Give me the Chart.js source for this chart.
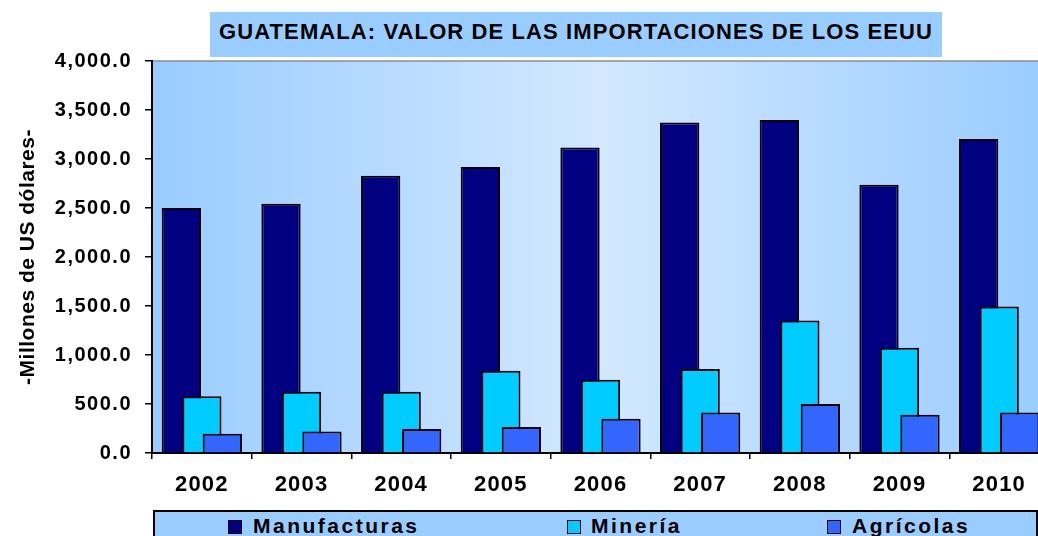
<!DOCTYPE html>
<html><head><meta charset="utf-8">
<script src="https://cdn.jsdelivr.net/npm/chart.js@4.4.1/dist/chart.umd.min.js"></script>
<style>
html,body{margin:0;padding:0;overflow:hidden;background:#fff;width:1038px;height:536px;}
#wrap{position:relative;width:1038px;height:536px;overflow:hidden;font-family:"Liberation Sans",Arial,sans-serif;}
canvas{position:absolute;left:0;top:0;}
#title{position:absolute;left:210px;top:12px;width:732px;height:45px;background:#99ccff;font-weight:bold;font-size:22px;letter-spacing:1.1px;line-height:40px;text-align:center;color:#000;white-space:nowrap;}
#legend{position:absolute;left:153px;top:510px;width:885px;height:40px;background:#99ccff;border:2px solid #000;box-sizing:border-box;}
.sq{position:absolute;top:520px;width:14px;height:14px;border:1.5px solid #000;box-sizing:border-box;}
.lt{position:absolute;top:516px;font-weight:bold;font-size:21px;letter-spacing:2.5px;line-height:20px;color:#000;white-space:nowrap;}
</style>
</head><body>
<div id="wrap">
<canvas id="c" width="1050" height="536" style="width:1050px;height:536px"></canvas>
<div id="title"></div>
<div id="legend"></div>
</div>
<script>
const titleText = 'GUATEMALA: VALOR DE LAS IMPORTACIONES DE LOS EEUU';
const yAxisTitle = '-Millones de US dólares-';
const years = ['2002','2003','2004','2005','2006','2007','2008','2009','2010'];
const seriesNames = ['Manufacturas','Minería','Agrícolas'];
const seriesColors = ['#000080','#00ccff','#3366ff'];
const manufacturas = [2500,2544,2830,2918,3118,3373,3398,2738,3204];
const mineria = [578,626,626,840,748,857,1353,1074,1496];
const agricolas = [197,220,245,265,350,414,500,391,414];
const yTickValues = [0,500,1000,1500,2000,2500,3000,3500,4000];

const FONT = '"Liberation Sans", Arial, sans-serif';
Chart.defaults.font.family = FONT;

document.getElementById('title').textContent = titleText;

// legend (HTML, built from the series arrays)
const wrap = document.getElementById('wrap');
const sqLeft = [228,567,827], txtLeft = [253,591,852];
seriesNames.forEach((n,i)=>{
  const s=document.createElement('div'); s.className='sq'; s.style.left=sqLeft[i]+'px'; s.style.background=seriesColors[i]; wrap.appendChild(s);
  const t=document.createElement('div'); t.className='lt'; t.style.left=txtLeft[i]+'px'; t.textContent=n; wrap.appendChild(t);
});

function patch(s, lsL, lsT){
  if (s.__p) return; s.__p = true;
  const dl = s.drawLabels, dt = s.drawTitle;
  s.drawLabels = function(ca){ const c=this.ctx; c.save(); c.letterSpacing=lsL; dl.call(this,ca); c.restore(); };
  s.drawTitle = function(){ const c=this.ctx; c.save(); c.letterSpacing=lsT; dt.call(this); c.restore(); };
}
const fmt = v => Number(v).toLocaleString('en-US',{minimumFractionDigits:1,maximumFractionDigits:1});

const bgPlugin = {
  id:'bg',
  beforeDraw(chart){
    const {ctx, chartArea:a} = chart;
    const g = ctx.createLinearGradient(a.left,0,a.right,0);
    g.addColorStop(0,'#99ccff');
    g.addColorStop(0.5,'#d3e8ff');
    g.addColorStop(1,'#99ccff');
    ctx.save();
    ctx.fillStyle=g;
    ctx.fillRect(a.left,a.top,a.right-a.left,a.bottom-a.top);
    ctx.strokeStyle='#8c8c8c'; ctx.lineWidth=1.5;
    ctx.beginPath(); ctx.moveTo(a.left,a.top); ctx.lineTo(a.right,a.top); ctx.stroke();
    ctx.restore();
  },
  beforeDatasetsDraw(chart){
    [0,1,2].forEach(i=>chart.getDatasetMeta(i).controller.draw());
    return false;
  }
};

const datasets = [manufacturas, mineria, agricolas].map((d,i)=>({
  label: seriesNames[i], data: d, backgroundColor: seriesColors[i],
  borderColor:'#000', borderWidth:2
}));

new Chart(document.getElementById('c'), {
  type:'bar',
  data:{labels:years, datasets},
  plugins:[bgPlugin],
  options:{
    responsive:false, animation:false, devicePixelRatio:1,
    layout:{padding:{top:61,bottom:43,left:0,right:1}},
    plugins:{legend:{display:false},title:{display:false},tooltip:{enabled:false}},
    datasets:{bar:{categoryPercentage:0.617,barPercentage:1.917}},
    scales:{
      x:{
        z:1, offset:true,
        grid:{display:true,drawOnChartArea:false,drawTicks:true,tickLength:6,color:'#000',lineWidth:1.5,offset:true},
        border:{display:true,color:'#000',width:2},
        ticks:{font:{size:22,weight:'bold'},color:'#000',padding:13,maxRotation:0,autoSkip:false},
        afterFit(s){ s.height=40; patch(s,'1.2px','0px'); }
      },
      y:{
        z:1, min:0, max:4000,
        afterBuildTicks(s){ s.ticks = yTickValues.map(v=>({value:v})); },
        ticks:{callback:v=>fmt(v),font:{size:20,weight:'bold'},color:'#000',padding:13},
        grid:{drawOnChartArea:false,drawTicks:true,tickLength:7,color:'#000',lineWidth:1.5},
        border:{display:true,color:'#000',width:2},
        title:{display:true,text:yAxisTitle,font:{size:21,weight:'bold'},color:'#000',padding:{top:16,bottom:0}},
        afterFit(s){ s.width=152; patch(s,'1.5px','0.5px'); }
      }
    }
  }
});
</script>
</body></html>
